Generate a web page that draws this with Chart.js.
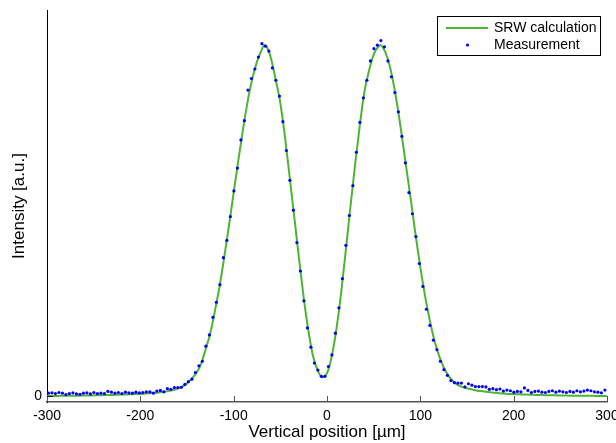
<!DOCTYPE html>
<html><head><meta charset="utf-8">
<script src="https://cdn.jsdelivr.net/npm/chart.js@4.4.0/dist/chart.umd.min.js"></script>
<style>html,body{margin:0;padding:0;background:#fff;}#wrap{width:616px;height:443px;}</style>
</head><body><div id="wrap"><canvas id="c" width="616" height="443"></canvas></div>
<script>
const xTicks = [-300, -200, -100, 0, 100, 200, 300];
const yTicks = [0];
const yTickLabels = ['0'];

// SRW calculation
const srwX = [-300,-295,-290,-285,-280,-275,-270,-265,-260,-255,-250,-245,-240,-235,-230,-225,-220,-215,-210,-205,
  -200,-195,-190,-185,-180,-175,-170,-165,-160,-155,-150,-145,-140,-135,-130,-125,-120,-115,-110,-105,
  -100,-95,-90,-85,-80,-75,-70,-67.5,-65,-60,-55,-50,-45,-40,-35,-30,-25,-20,-15,-10,-5,
  0,5,10,15,20,25,30,35,40,45,50,55,57.5,60,65,70,75,80,85,90,95,
  100,105,110,115,120,125,130,135,140,145,150,155,160,165,170,175,180,185,190,195,
  200,205,210,215,220,225,230,235,240,245,250,255,260,265,270,275,280,285,290,295,300];
const srwY = [0.001,0.001,0.001,0.0015,0.0015,0.002,0.002,0.002,0.0025,0.0025,0.003,0.003,0.0035,0.004,0.004,0.0045,0.005,0.0055,0.006,0.0065,
  0.007,0.008,0.009,0.010,0.011,0.013,0.015,0.018,0.022,0.028,0.037,0.050,0.067,0.092,0.135,0.180,0.245,0.315,0.398,0.487,
  0.580,0.672,0.760,0.840,0.905,0.953,0.986,1.000,0.997,0.962,0.902,0.835,0.738,0.625,0.510,0.392,0.282,0.188,0.115,0.074,0.054,
  0.066,0.113,0.190,0.292,0.412,0.537,0.658,0.768,0.866,0.927,0.973,0.996,1.000,0.993,0.962,0.908,0.833,0.745,0.650,0.556,0.458,
  0.367,0.287,0.218,0.160,0.116,0.083,0.059,0.043,0.033,0.027,0.023,0.020,0.017,0.015,0.013,0.012,0.010,0.009,0.008,0.007,
  0.0065,0.006,0.0055,0.005,0.0045,0.004,0.0038,0.0035,0.003,0.003,0.0025,0.0025,0.002,0.002,0.002,0.0015,0.0015,0.0015,0.001,0.001,0.001];

const measX = [-298.5,-294.75,-291,-287.25,-283.5,-279.75,-276,-272.25,-268.5,-264.75,
  -261,-257.25,-253.5,-249.75,-246,-242.25,-238.5,-234.75,-231,-227.25,
  -223.5,-219.75,-216,-212.25,-208.5,-204.75,-201,-197.25,-193.5,-189.75,
  -186,-182.25,-178.5,-174.75,-171,-167.25,-163.5,-159.75,-156,-152.25,
  -148.5,-144.75,-141,-137.25,-133.5,-129.75,-126,-122.25,-118.5,-114.75,
  -111,-107.25,-103.5,-99.75,-96,-92.25,-88.5,-84.75,-81,-77.25,
  -73.5,-69.75,-66,-62.25,-58.5,-54.75,-51,-47.25,-43.5,-39.75,
  -36,-32.25,-28.5,-24.75,-21,-17.25,-13.5,-9.75,-6,-2.25,
  1.5,5.25,9,12.75,16.5,20.25,24,27.75,31.5,35.25,
  39,42.75,46.5,50.25,54,57.75,61.5,65.25,69,72.75,
  76.5,80.25,84,87.75,91.5,95.25,99,102.75,106.5,110.25,
  114,117.75,121.5,125.25,129,132.75,136.5,140.25,144,147.75,
  151.5,155.25,159,162.75,166.5,170.25,174,177.75,181.5,185.25,
  189,192.75,196.5,200.25,204,207.75,211.5,215.25,219,222.75,
  226.5,230.25,234,237.75,241.5,245.25,249,252.75,256.5,260.25,
  264,267.75,271.5,275.25,279,282.75,286.5,290.25,294,297.75];
const measY = [0.009,0.010,0.008,0.011,0.009,0.005,0.008,0.010,0.007,0.006,
  0.009,0.010,0.007,0.011,0.008,0.009,0.008,0.014,0.012,0.009,
  0.011,0.008,0.012,0.010,0.009,0.012,0.010,0.011,0.013,0.013,
  0.009,0.015,0.017,0.013,0.022,0.020,0.025,0.025,0.026,0.034,
  0.042,0.049,0.068,0.087,0.100,0.143,0.175,0.225,0.268,0.318,
  0.395,0.444,0.512,0.585,0.650,0.730,0.785,0.872,0.905,0.932,
  0.966,1.004,0.997,0.983,0.935,0.900,0.855,0.782,0.700,0.615,
  0.530,0.438,0.357,0.272,0.195,0.140,0.095,0.075,0.057,0.057,
  0.085,0.118,0.180,0.252,0.335,0.430,0.515,0.600,0.695,0.780,
  0.850,0.900,0.955,0.990,1.000,1.013,0.995,0.955,0.910,0.865,
  0.810,0.740,0.665,0.580,0.520,0.455,0.378,0.313,0.248,0.202,
  0.160,0.133,0.100,0.076,0.060,0.045,0.039,0.038,0.038,0.027,
  0.036,0.032,0.028,0.028,0.028,0.027,0.020,0.022,0.019,0.021,
  0.015,0.018,0.016,0.012,0.014,0.013,0.024,0.017,0.011,0.014,
  0.015,0.012,0.011,0.014,0.016,0.012,0.015,0.013,0.011,0.014,
  0.012,0.016,0.013,0.015,0.018,0.016,0.013,0.012,0.010,0.018];

const GREEN = '#4cb535';
const BLUE = '#0000ff';
const FONT = "'Liberation Sans', Arial, Helvetica, sans-serif";

const inwardTicks = {
  id: 'inwardTicks',
  afterDraw(chart) {
    const {ctx, chartArea, scales} = chart;
    ctx.save();
    ctx.lineWidth = 1;
    ctx.strokeStyle = '#555';
    scales.x.ticks.forEach(t => {
      const px = Math.round(scales.x.getPixelForValue(t.value)) + 0.5;
      ctx.beginPath();
      ctx.moveTo(px, chartArea.bottom);
      ctx.lineTo(px, chartArea.bottom - 6);
      ctx.stroke();
    });
    ctx.strokeStyle = '#000';
    scales.y.ticks.forEach(t => {
      const py = Math.round(scales.y.getPixelForValue(t.value)) + 0.5;
      ctx.beginPath();
      ctx.moveTo(chartArea.left, py);
      ctx.lineTo(chartArea.left + 6, py);
      ctx.stroke();
    });
    ctx.restore();
  }
};

const boxLegend = {
  id: 'boxLegend',
  afterDraw(chart) {
    const ctx = chart.ctx;
    const ds = chart.data.datasets;
    ctx.save();
    ctx.fillStyle = '#fff';
    ctx.fillRect(437.5, 16.5, 163, 39);
    ctx.strokeStyle = '#000';
    ctx.lineWidth = 1;
    ctx.strokeRect(437.5, 16.5, 163, 39);
    ctx.strokeStyle = ds[0].borderColor;
    ctx.lineWidth = 2;
    ctx.beginPath(); ctx.moveTo(446, 28); ctx.lineTo(488, 28); ctx.stroke();
    ctx.fillStyle = ds[1].backgroundColor;
    ctx.beginPath(); ctx.arc(467.5, 45, 1.6, 0, Math.PI * 2); ctx.fill();
    ctx.fillStyle = '#000';
    ctx.font = '14px ' + FONT;
    ctx.textBaseline = 'middle';
    ctx.textAlign = 'left';
    ctx.fillText(ds[0].label, 494, 28);
    ctx.fillText(ds[1].label, 494, 45);
    ctx.restore();
  }
};

Chart.defaults.font.family = FONT;
Chart.defaults.color = '#000';

new Chart(document.getElementById('c'), {
  type: 'scatter',
  data: {
    datasets: [
      {
        label: 'SRW calculation',
        data: srwX.map((x, i) => ({x: x, y: srwY[i]})),
        showLine: true,
        borderColor: GREEN,
        backgroundColor: GREEN,
        borderWidth: 2,
        pointRadius: 0,
        cubicInterpolationMode: 'monotone',
        order: 1
      },
      {
        label: 'Measurement',
        data: measX.map((x, i) => ({x: x, y: measY[i]})),
        showLine: false,
        backgroundColor: BLUE,
        borderColor: BLUE,
        borderWidth: 0,
        pointRadius: 1.6,
        order: 0
      }
    ]
  },
  options: {
    responsive: false,
    animation: false,
    devicePixelRatio: 1,
    layout: {padding: {top: 10, right: 9, left: 0, bottom: 0}},
    plugins: {legend: {display: false}, tooltip: {enabled: false}},
    scales: {
      x: {
        type: 'linear',
        min: -300, max: 300,
        afterBuildTicks: s => { s.ticks = xTicks.map(v => ({value: v})); },
        afterFit: s => { s.height = 41; s.paddingLeft = 0; s.paddingRight = 0; },
        grid: {display: false, drawTicks: false},
        border: {display: true, color: '#555', width: 1.5},
        ticks: {padding: 6, font: {size: 14}, color: '#000', maxRotation: 0, autoSkip: false,
          callback: v => String(v)},
        title: {display: true, text: 'Vertical position [µm]', font: {size: 17}, color: '#000',
          padding: {top: 0, bottom: 0}}
      },
      y: {
        type: 'linear',
        min: -0.016, max: 1.1,
        afterBuildTicks: s => { s.ticks = yTicks.map(v => ({value: v})); },
        afterFit: s => { s.width = 47; s.paddingTop = 0; s.paddingBottom = 0; },
        grid: {display: false, drawTicks: false},
        border: {display: true, color: '#000', width: 1},
        ticks: {padding: 5, font: {size: 14}, color: '#000', autoSkip: false,
          callback: (v) => { const i = yTicks.indexOf(v); return i >= 0 ? yTickLabels[i] : ''; }},
        title: {display: true, text: 'Intensity [a.u.]', font: {size: 17}, color: '#000',
          padding: {top: 9, bottom: 0}}
      }
    }
  },
  plugins: [inwardTicks, boxLegend]
});
</script>
</body></html>
